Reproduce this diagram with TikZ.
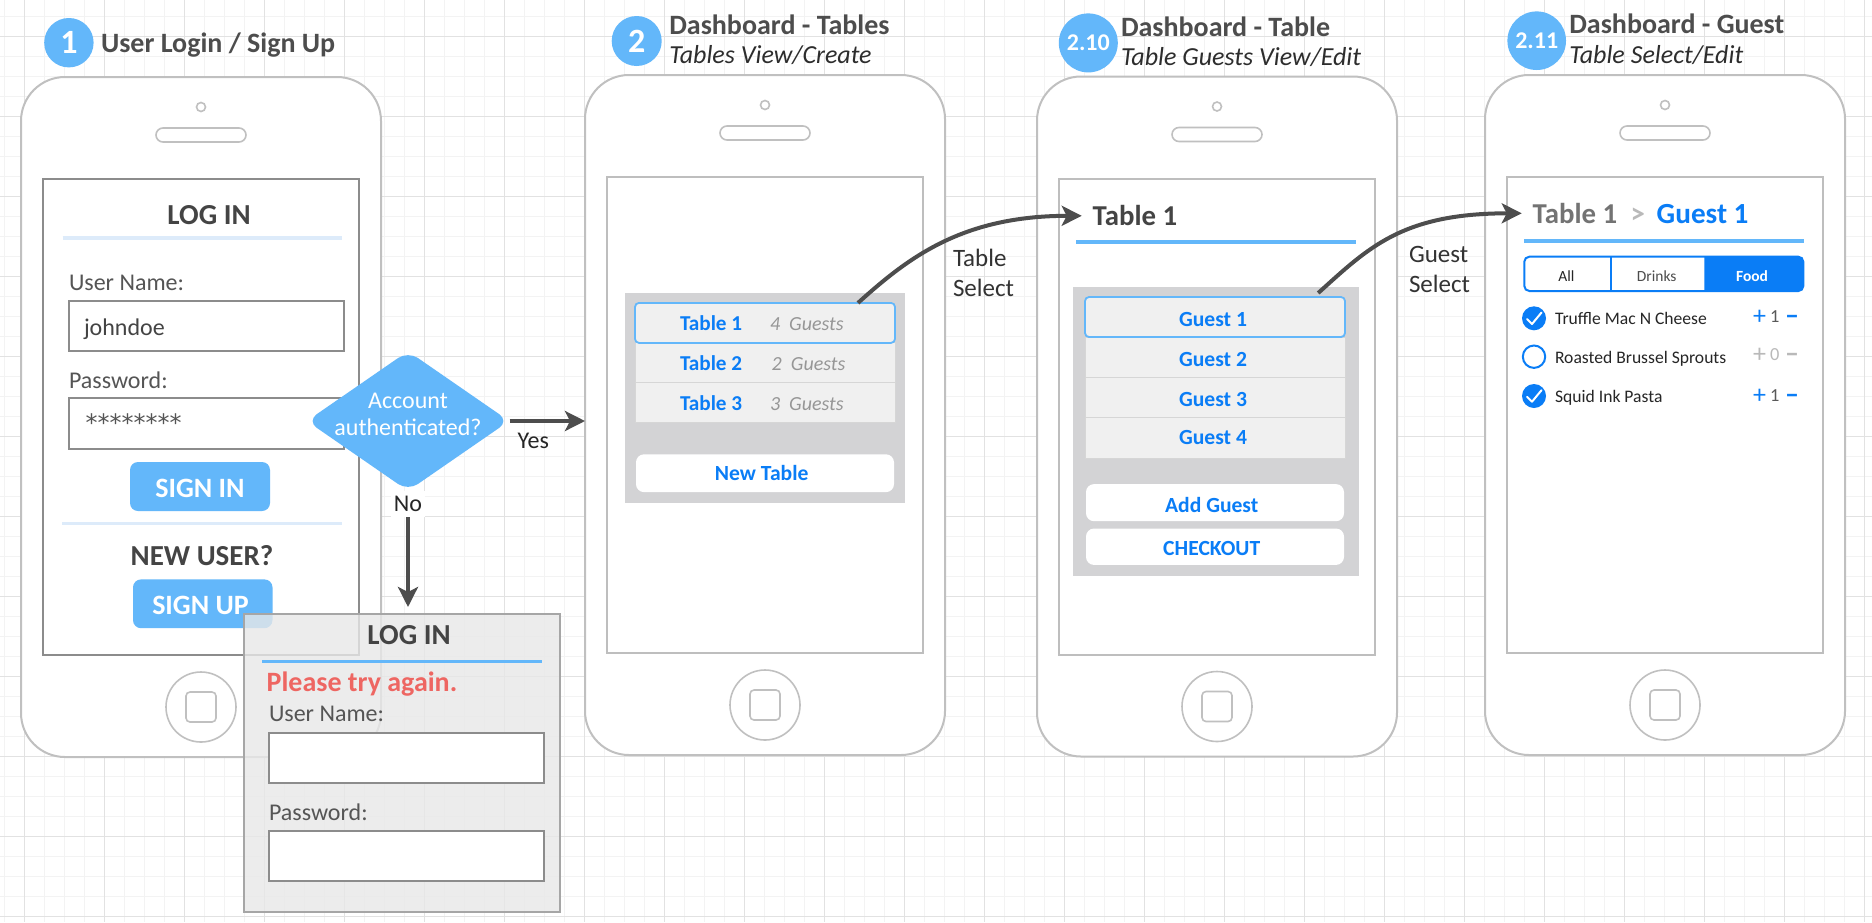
\documentclass[tikz,border=0pt]{standalone}
\usepackage{fontspec}
\setmainfont{Carlito}
\newfontfamily\djv{DejaVu Sans}
\usetikzlibrary{arrows.meta,shapes.geometric}

\definecolor{stepblue}{RGB}{99,183,250}
\definecolor{iosblue}{RGB}{10,125,246}
\definecolor{phonegray}{RGB}{192,192,192}
\definecolor{scrgray}{RGB}{190,190,190}
\definecolor{scrdark}{RGB}{140,140,140}
\definecolor{titletxt}{RGB}{77,77,77}
\definecolor{subtxt}{RGB}{45,45,45}
\definecolor{darktxt}{RGB}{68,68,68}
\definecolor{labtxt}{RGB}{85,85,85}
\definecolor{panelgray}{RGB}{211,211,213}
\definecolor{rowgray}{RGB}{240,240,240}
\definecolor{rowline}{RGB}{214,214,214}
\definecolor{paleblue}{RGB}{221,235,250}
\definecolor{errred}{RGB}{238,102,98}
\definecolor{connc}{RGB}{77,77,77}
\definecolor{gridmaj}{RGB}{226,226,226}
\definecolor{gridmin}{RGB}{243,243,243}
\definecolor{fieldgray}{RGB}{140,140,140}
\definecolor{popupfill}{RGB}{232,232,232}
\definecolor{popupline}{RGB}{166,166,166}
\definecolor{guestgray}{RGB}{150,150,150}
\definecolor{ltgray}{RGB}{185,185,185}

\newcommand\myfs[1]{\fontsize{#1}{#1}\selectfont}

\tikzset{
  phonebody/.style={draw=phonegray, fill=white, line width=1pt, rounded corners=22pt,
    minimum width=180pt, minimum height=340pt, inner sep=0pt, outer sep=0pt, anchor=north west},
  screenbox/.style={draw=#1, line width=1pt, minimum width=158pt, minimum height=238pt,
    inner sep=0pt, outer sep=0pt, anchor=north west},
  phonepart/.style={draw=phonegray, line width=0.8pt},
  txt/.style={inner sep=0pt, outer sep=0pt},
  steptitle/.style={txt, font=\myfs{14}\bfseries, text=titletxt, anchor=base west},
  stepsub/.style={txt, font=\myfs{13}\itshape, text=subtxt, anchor=base west},
  stepcircle/.style={circle, fill=stepblue, inner sep=0pt, text=white},
  field/.style={draw=fieldgray, fill=white, line width=1pt},
  rowbox/.style={fill=rowgray, draw=rowline, line width=0.5pt, minimum width=130pt,
    minimum height=20pt, inner sep=0pt, outer sep=0pt, anchor=north west},
  selrow/.style={rowbox, draw=stepblue, line width=0.9pt, rounded corners=2pt},
  whitebtn/.style={fill=white, rounded corners=4pt, inner sep=0pt, outer sep=0pt, anchor=north west},
  bluetxt/.style={txt, font=\myfs{10.8}\bfseries, text=iosblue, anchor=base},
  conn/.style={draw=connc, line width=2pt, -{Stealth[length=10pt,width=10pt,inset=2.5pt]}},
  edgelbl/.style={txt, font=\myfs{12}, text=black!85},
  sellbl/.style={txt, font=\fontsize{12.5}{15.25}\selectfont, text=black!80, align=left, anchor=north west},
}

\newcommand\drawphone[4]{%
  \node[phonebody] (#1) at (#2,#3) {};
  \draw[phonepart] ({#2+180},{#3+30}) circle (2.25pt);
  \draw[phonepart, rounded corners=3.5pt] ({#2+135},{#3+51}) rectangle ({#2+225},{#3+65});
  \node[screenbox=#4] (#1scr) at ({#2+22},{#3+102}) {};
  \draw[phonepart] ({#2+180},{#3+630}) circle (17.5pt);
  \draw[phonepart, rounded corners=2pt] ({#2+165},{#3+615}) rectangle ({#2+195},{#3+645});
}

\begin{document}
\begin{tikzpicture}[x=0.5pt,y=-0.5pt]
\useasboundingbox (0,0) rectangle (1872,922);
\fill[white] (0,0) rectangle (1872,922);
% grid
\foreach \i in {0,...,93} \draw[gridmin, line width=0.5pt] ({4.3+20*\i},0) -- ({4.3+20*\i},922);
\foreach \j in {0,...,45} \draw[gridmin, line width=0.5pt] (0,{16+20*\j}) -- (1872,{16+20*\j});
\foreach \i in {0,...,23} \draw[gridmaj, line width=0.5pt] ({24.3+80*\i},0) -- ({24.3+80*\i},922);
\foreach \j in {0,...,11} \draw[gridmaj, line width=0.5pt] (0,{36+80*\j}) -- (1872,{36+80*\j});

% step headers
\node[stepcircle, minimum size=24.7pt, font=\myfs{17}\bfseries] (s1) at (68.9,42.7) {1};
\node[steptitle] (s1t) at (101,52.7) {User Login / Sign Up};
\node[stepcircle, minimum size=25pt, font=\myfs{17}\bfseries] (s2) at (636.7,41) {2};
\node[steptitle] (s2t) at (669.3,34) {Dashboard - Tables};
\node[stepsub] (s2s) at (669.3,63.6) {Tables View/Create};
\node[stepcircle, minimum size=29.5pt, font=\myfs{12}\bfseries] (s3) at (1088.3,42.9) {2.10};
\node[steptitle] (s3t) at (1121,36.4) {Dashboard - Table};
\node[stepsub] (s3s) at (1121,65.8) {Table Guests View/Edit};
\node[stepcircle, minimum size=29.3pt, font=\myfs{12}\bfseries] (s4) at (1536.7,40.7) {2.11};
\node[steptitle] (s4t) at (1569.3,33.3) {Dashboard - Guest};
\node[stepsub] (s4s) at (1569.3,63.3) {Table Select/Edit};

% phones
\drawphone{p1}{21}{77}{scrdark}
\drawphone{p2}{585}{75}{scrgray}
\drawphone{p3}{1037}{76.5}{scrgray}
\drawphone{p4}{1485}{75}{scrgray}

% ---- phone 1: log in
\node[txt, font=\myfs{14.5}\bfseries, text=darktxt, anchor=base] (login1) at (209,224) {LOG IN};
\draw[paleblue, line width=2pt] (62.5,237.7) -- (341.8,237.7);
\node[txt, font=\myfs{12}, text=labtxt, anchor=base west] (un1) at (69,290) {User Name:};
\draw[field] (68.6,300.7) rectangle (343.6,351);
\node[txt, font=\myfs{12}, text=darktxt, anchor=base west] (jd) at (84,335) {johndoe};
\node[txt, font=\myfs{12}, text=labtxt, anchor=base west] (pw1) at (69,388.3) {Password:};
\draw[field] (68.6,398.3) rectangle (343.6,449);
\node[txt, font=\djv\myfs{12}, text=labtxt, anchor=base west] (stars) at (85.7,431) {********};
\fill[stepblue, rounded corners=4pt] (130,462) rectangle (270,511);
\node[txt, font=\myfs{14}\bfseries, text=white, anchor=base] (signin) at (200,497) {SIGN IN};
\draw[paleblue, line width=1.5pt] (62,523.4) -- (341.8,523.4);
\node[txt, font=\myfs{14.5}\bfseries, text=darktxt, anchor=base] (newuser) at (202,565.6) {NEW USER?};
\fill[stepblue, rounded corners=4pt] (133,579.4) rectangle (272.5,628.2);
\node[txt, font=\myfs{14}\bfseries, text=white, anchor=base] (signup) at (200.5,614) {SIGN UP};

% decision
\node[diamond, fill=stepblue, rounded corners=6pt, minimum width=101.3pt, minimum height=70pt, inner sep=0pt] (auth) at (408,421) {};
\node[txt, font=\fontsize{12}{13.85}\selectfont, text=white, align=center] (authtxt) at (408,414.4) {Account\\authenticated?};

% error popup
\node[draw=popupline, fill=popupfill, fill opacity=0.8, line width=1pt, minimum width=158pt, minimum height=149pt, inner sep=0pt, anchor=north west] (err) at (243,613) {};
\node[txt, font=\myfs{14.5}\bfseries, text=darktxt, anchor=base] (login2) at (409,644.4) {LOG IN};
\draw[stepblue, line width=1.75pt] (262,661.7) -- (541.5,661.7);
\node[txt, font=\myfs{14}\bfseries, text=errred, anchor=base west] (again) at (266.7,691) {Please try again.};
\node[txt, font=\myfs{12}, text=labtxt, anchor=base west] (un2) at (269,721.5) {User Name:};
\draw[field] (269,733.3) rectangle (543.5,782.7);
\node[txt, font=\myfs{12}, text=labtxt, anchor=base west] (pw2) at (269,820) {Password:};
\draw[field] (268.6,830.7) rectangle (543.6,880.7);

% ---- phone 2: tables
\fill[panelgray] (625,292.9) rectangle (905,502.9);
\node[rowbox] (t2row) at (635,342.9) {};
\node[rowbox] (t3row) at (635,382.9) {};
\node[selrow] (t1row) at (635,302.9) {};
\node[txt, font=\myfs{10.6}\bfseries, text=iosblue, anchor=base west] (t1) at (680,330.4) {Table 1};
\node[txt, font=\myfs{10}\itshape, text=guestgray, anchor=base west] (t1g) at (770,330.4) {4\ \ Guests};
\node[txt, font=\myfs{10.6}\bfseries, text=iosblue, anchor=base west] (t2) at (680,370.8) {Table 2};
\node[txt, font=\myfs{10}\itshape, text=guestgray, anchor=base west] (t2g) at (771.7,370.8) {2\ \ Guests};
\node[txt, font=\myfs{10.6}\bfseries, text=iosblue, anchor=base west] (t3) at (680,410.8) {Table 3};
\node[txt, font=\myfs{10}\itshape, text=guestgray, anchor=base west] (t3g) at (770,410.8) {3\ \ Guests};
\node[whitebtn, minimum width=129pt, minimum height=18.9pt] (newtbl) at (636,454.3) {};
\node[bluetxt] (newtbltxt) at (761.7,480.4) {New Table};

% ---- phone 3: table guests
\node[txt, font=\myfs{14.4}\bfseries, text=darktxt, anchor=base west] (hdr3) at (1092.7,225.8) {Table 1};
\draw[stepblue, line width=2pt] (1076,241.9) -- (1355.7,241.9);
\fill[panelgray] (1073.3,287) rectangle (1359,576.3);
\node[rowbox] (g2row) at (1085,337) {};
\node[rowbox] (g3row) at (1085,377) {};
\node[rowbox, minimum height=20.75pt] (g4row) at (1085,417) {};
\node[selrow] (g1row) at (1085,297) {};
\node[bluetxt] (g1) at (1213,326) {Guest 1};
\node[bluetxt] (g2) at (1213,366.2) {Guest 2};
\node[bluetxt] (g3) at (1213,406.4) {Guest 3};
\node[bluetxt] (g4) at (1213,444.5) {Guest 4};
\node[whitebtn, minimum width=129pt, minimum height=18.55pt] (addg) at (1086,484.1) {};
\node[bluetxt] (addgtxt) at (1211.7,512) {Add Guest};
\node[whitebtn, minimum width=129pt, minimum height=18.2pt] (chk) at (1086,528.5) {};
\node[bluetxt] (chktxt) at (1211.7,555) {CHECKOUT};

% ---- phone 4: guest
\node[txt, font=\myfs{14.4}\bfseries, text=black!55, anchor=base west] (hdr4) at (1532.7,223.3) {Table 1};
\node[txt, font=\myfs{14.4}\bfseries, text=ltgray, anchor=base west] (gt) at (1630.7,223.3) {>};
\node[txt, font=\myfs{14.6}\bfseries, text=iosblue, anchor=base west] (hdr4b) at (1656.7,223.3) {Guest 1};
\draw[stepblue, line width=2pt] (1524,240.7) -- (1804,240.7);
\begin{scope}
  \clip (1704.3,250) rectangle (1810,300);
  \fill[iosblue, rounded corners=2.5pt] (1524.3,256.7) rectangle (1803.3,291);
\end{scope}
\draw[iosblue, line width=1pt, rounded corners=2.5pt] (1524.3,256.7) rectangle (1803.3,291);
\draw[iosblue, line width=1pt] (1611,256.7) -- (1611,291);
\node[txt, font=\myfs{7.75}, text=black!85, anchor=base] (segall) at (1566.3,281) {All};
\node[txt, font=\myfs{7.75}, text=black!70, anchor=base] (segdr) at (1656.7,281) {Drinks};
\node[txt, font=\myfs{7.75}\bfseries, text=white, anchor=base] (segfd) at (1752,281) {Food};
% items
\fill[iosblue] (1534,318.3) circle (6pt);
\draw[white, line width=1pt, line cap=round, line join=round] (1527,319) -- (1532,324) -- (1541.5,312.5);
\draw[iosblue, line width=1pt, fill=white] (1534,356.7) circle (5.6pt);
\fill[iosblue] (1534,396) circle (6pt);
\draw[white, line width=1pt, line cap=round, line join=round] (1527,396.7) -- (1532,401.7) -- (1541.5,390.2);
\node[txt, font=\myfs{8.8}, text=black!85, anchor=base west] (it1) at (1555,324.3) {Truffle Mac N Cheese};
\node[txt, font=\myfs{8.8}, text=black!85, anchor=base west] (it2) at (1555,363.3) {Roasted Brussel Sprouts};
\node[txt, font=\myfs{8.8}, text=black!85, anchor=base west] (it3) at (1555,402.7) {Squid Ink Pasta};
\node[txt, font=\myfs{13}, text=iosblue, anchor=base west] (pl1) at (1753,324.4) {+};
\node[txt, font=\myfs{9.2}, text=black!65, anchor=base west] (n1) at (1770,322.3) {1};
\node[txt, font=\myfs{14}\bfseries, text=iosblue, anchor=base west] (mi1) at (1785,324.4) {–};
\node[txt, font=\myfs{13}, text=ltgray, anchor=base west] (pl2) at (1753,362) {+};
\node[txt, font=\myfs{9.2}, text=ltgray, anchor=base west] (n2) at (1770,360) {0};
\node[txt, font=\myfs{14}\bfseries, text=ltgray, anchor=base west] (mi2) at (1785,362) {–};
\node[txt, font=\myfs{13}, text=iosblue, anchor=base west] (pl3) at (1753,403.7) {+};
\node[txt, font=\myfs{9.2}, text=black!65, anchor=base west] (n3) at (1770,401.7) {1};
\node[txt, font=\myfs{14}\bfseries, text=iosblue, anchor=base west] (mi3) at (1785,403.7) {–};

% ---- connectors
\draw[conn] (auth.east) -- node[edgelbl, anchor=north, pos=0.313, yshift=-6pt] (yes) {Yes} (auth.east -| p2.west);
\draw[conn, shorten >=3pt] (auth.south) -- node[edgelbl, fill=white, inner xsep=1.5pt, inner ysep=2.5pt, pos=0.105] (no) {No} (auth.south |- err.north);
\draw[conn] ([xshift=-18.5pt]t1row.north east) .. controls +(50,-45) and +(-120,0) .. ([xshift=-5.5pt]hdr3.west);
\node[sellbl] (tsel) at (953,249) {Table\\Select};
\draw[conn] ([xshift=-13.4pt,yshift=2pt]g1row.north east) .. controls +(50,-45) and +(-120,0) .. ([xshift=-5.5pt]hdr4.west);
\node[sellbl] (gsel) at (1409,246) {Guest\\Select};
\end{tikzpicture}
\end{document}
